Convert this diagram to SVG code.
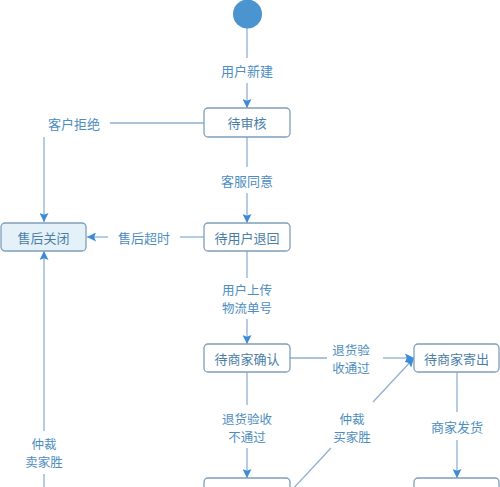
<svg xmlns="http://www.w3.org/2000/svg" width="500" height="487" viewBox="0 0 500 487">
<defs>
<marker id="ah" viewBox="0 0 10 10" refX="10" refY="5" markerWidth="9" markerHeight="9" markerUnits="userSpaceOnUse" orient="auto">
<path d="M0,0 L10,5 L0,10 L2,5 Z" fill="#3d8ad6"/>
</marker>
<style>
.n rect{fill:#ffffff;stroke:#7f9fba;stroke-width:1.3}
.n.f rect{fill:#e4f1f8}
.n text,.lb{font-family:"Noto Sans CJK SC","Liberation Sans",sans-serif;font-size:13px;text-anchor:middle;dominant-baseline:central}
.n text{fill:#4a7ea8}
.lb{fill:#4d8dc0}
.lb.m{font-size:12.5px}
.c line,.c path{stroke:#8fb0cf;stroke-width:1.3;fill:none}
.a{marker-end:url(#ah)}
</style>
</defs>
<rect width="500" height="487" fill="#ffffff"/>
<g id="connectors" class="c">
<line x1="247" y1="28" x2="247" y2="58"/>
<line class="a" x1="247" y1="83" x2="247" y2="108"/>
<line x1="204" y1="123" x2="110" y2="123"/>
<line class="a" x1="44" y1="137" x2="44" y2="222"/>
<line x1="247" y1="137" x2="247" y2="167"/>
<line class="a" x1="247" y1="193" x2="247" y2="223"/>
<line x1="204" y1="237" x2="180" y2="237"/>
<line class="a" x1="108" y1="237" x2="87" y2="237"/>
<line x1="247" y1="251" x2="247" y2="278"/>
<line class="a" x1="247" y1="319" x2="247" y2="344"/>
<line x1="290" y1="358" x2="327" y2="358"/>
<line class="a" x1="383" y1="358" x2="414" y2="358"/>
<line x1="247" y1="372" x2="247" y2="405"/>
<line class="a" x1="247" y1="448" x2="247" y2="478"/>
<line x1="457" y1="372" x2="457" y2="412"/>
<line class="a" x1="457" y1="440" x2="457" y2="478"/>
<line x1="290" y1="492" x2="331" y2="448"/>
<line class="a" x1="373" y1="402" x2="414" y2="358"/>
<line class="a" x1="44" y1="431" x2="44" y2="251"/>
<line x1="44" y1="474" x2="44" y2="490"/>
</g>
<g class="lbs">
<text class="lb" x="247" y="70">用户新建</text>
<text class="lb" x="74" y="123">客户拒绝</text>
<text class="lb" x="247" y="180">客服同意</text>
<text class="lb" x="144" y="237">售后超时</text>
<text class="lb m" x="247" y="289.5">用户上传</text>
<text class="lb m" x="247" y="307.5">物流单号</text>
<text class="lb m" x="351" y="349.5">退货验</text>
<text class="lb m" x="351" y="367.5">收通过</text>
<text class="lb m" x="247" y="418">退货验收</text>
<text class="lb m" x="247" y="436">不通过</text>
<text class="lb m" x="352" y="418">仲裁</text>
<text class="lb m" x="352" y="436">买家胜</text>
<text class="lb" x="457" y="426">商家发货</text>
<text class="lb m" x="44" y="443.5">仲裁</text>
<text class="lb m" x="44" y="461.5">卖家胜</text>
</g>
<g id="start"><circle cx="247.5" cy="14" r="14.5" fill="#4a95d0"/></g>
<g id="n1" class="n"><rect x="204" y="108" width="86" height="29" rx="4"/><text x="247" y="122.5">待审核</text></g>
<g id="n2" class="n f"><rect x="1" y="223" width="85" height="28" rx="4"/><text x="43.5" y="237">售后关闭</text></g>
<g id="n3" class="n"><rect x="204" y="223" width="86" height="28" rx="4"/><text x="247" y="237">待用户退回</text></g>
<g id="n4" class="n"><rect x="204" y="344" width="86" height="28" rx="4"/><text x="247" y="358">待商家确认</text></g>
<g id="n5" class="n"><rect x="414" y="344" width="85" height="28" rx="4"/><text x="456.5" y="358">待商家寄出</text></g>
<g id="n6" class="n"><rect x="204" y="478" width="86" height="28" rx="4"/></g>
<g id="n7" class="n"><rect x="414" y="478" width="85" height="28" rx="4"/></g>
</svg>
